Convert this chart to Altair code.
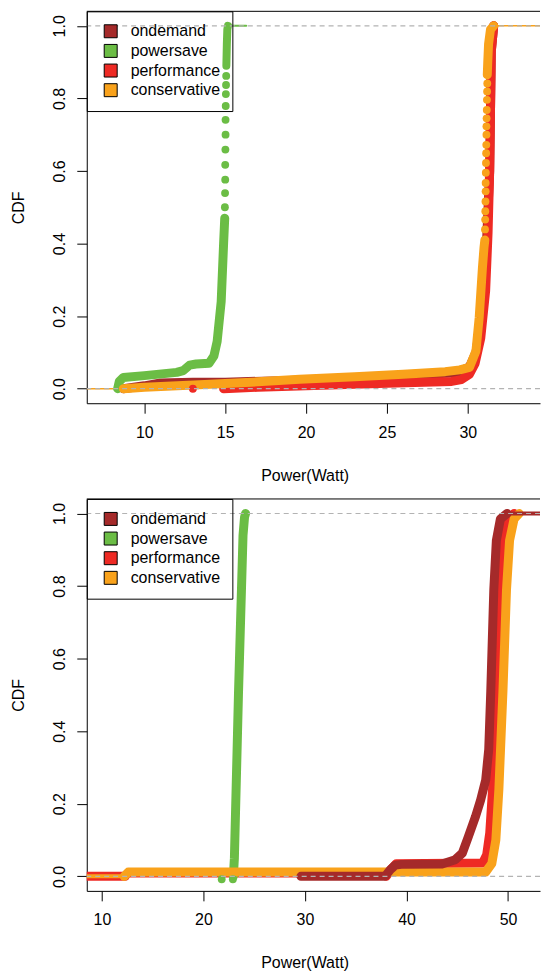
import altair as alt
import pandas as pd

# ---------------- categories / colours ----------------
SERIES = ["ondemand", "powersave", "performance", "conservative"]
COLORS = ["#A52A2A", "#6BBD45", "#EE2A24", "#F9A21B"]
COLOR_OF = dict(zip(SERIES, COLORS))

Y_TICKS = [0.0, 0.2, 0.4, 0.6, 0.8, 1.0]
Y_DOMAIN = [-0.04, 1.04]
REF_LEVELS = [0.0, 1.0]

TOP_X_TICKS = [10, 15, 20, 25, 30]
TOP_X_DOMAIN = [6.44, 34.46]
BOT_X_TICKS = [10, 20, 30, 40, 50]
BOT_X_DOMAIN = [8.51, 53.15]

# ---------------- top panel traces ----------------
top_cons_lead_x = [6.44, 8.7]
top_cons_lead_y = [0.0, 0.0]

top_ond_x = [8.7, 10.0, 11.0, 13.0, 15.0, 20.0, 25.0, 29.3, 30.1, 30.5, 30.85, 31.15, 31.35, 31.45, 31.6]
top_ond_y = [0.0, 0.008, 0.016, 0.018, 0.018, 0.024, 0.034, 0.044, 0.06, 0.1, 0.2, 0.4, 0.6, 0.93, 1.0]

top_ps_x = [8.35, 8.45, 8.7, 10.0, 12.0, 12.4, 12.8, 13.2, 14.0, 14.3, 14.5, 14.75, 14.9, 14.97]
top_ps_y = [0.0, 0.02, 0.031, 0.036, 0.045, 0.05, 0.065, 0.068, 0.07, 0.09, 0.13, 0.24, 0.40, 0.47]
top_ps_top_x = [15.07, 15.1, 15.13, 15.17]
top_ps_top_y = [0.89, 0.95, 0.99, 1.0]
top_ps_tail_x = [15.17, 16.3]
top_ps_tail_y = [1.0, 1.0]
top_ps_dot_x = [14.98, 14.99, 15.0, 15.0, 15.01, 15.02, 15.02, 15.03, 15.04, 15.05, 15.06]
top_ps_dot_y = [0.5, 0.539, 0.576, 0.617, 0.659, 0.700, 0.741, 0.779, 0.812, 0.837, 0.862]

top_perf_x = [14.9, 17.0, 20.0, 25.0, 29.0, 29.6, 30.1, 30.45, 30.8, 31.1, 31.25, 31.35, 31.45, 31.6]
top_perf_y = [0.0, 0.004, 0.008, 0.015, 0.02, 0.025, 0.04, 0.07, 0.14, 0.27, 0.43, 0.6, 0.93, 1.0]
top_perf_dot_x = [13.0]
top_perf_dot_y = [0.0]

top_cons_x = [8.7, 10.0, 13.4, 17.0, 19.6, 23.0, 26.0, 28.6, 29.5, 30.1, 30.5, 30.7, 30.9, 31.0, 31.05]
top_cons_y = [0.0, 0.004, 0.011, 0.019, 0.026, 0.033, 0.04, 0.047, 0.052, 0.059, 0.104, 0.196, 0.333, 0.39, 0.41]
top_cons_top_x = [31.2, 31.23, 31.28, 31.4, 31.6]
top_cons_top_y = [0.865, 0.9, 0.95, 0.99, 1.0]
top_cons_tail_x = [31.6, 34.46]
top_cons_tail_y = [1.0, 1.0]
top_cons_dot_x = [31.06, 31.07, 31.08, 31.09, 31.1, 31.1, 31.11, 31.12, 31.13, 31.14, 31.15, 31.15, 31.16, 31.17, 31.18, 31.19, 31.2]
top_cons_dot_y = [0.439, 0.466, 0.489, 0.516, 0.544, 0.567, 0.595, 0.622, 0.649, 0.672, 0.700, 0.723, 0.745, 0.768, 0.796, 0.819, 0.841]

# ---------------- bottom panel traces ----------------
bot_perf_lead_x = [8.51, 12.3]
bot_perf_lead_y = [0.0, 0.0]
bot_cons_lead_x = [8.51, 12.3]
bot_cons_lead_y = [0.0, 0.0]
bot_perf_thin_x = [12.3, 38.0]
bot_perf_thin_y = [0.0, 0.0]

bot_ps_x = [22.95, 23.05, 23.45, 23.9, 24.05, 24.15]
bot_ps_y = [0.0, 0.05, 0.5, 0.94, 0.99, 1.0]
bot_ps_dot_x = [21.8, 22.9]
bot_ps_dot_y = [-0.008, -0.008]

bot_perf_x = [38.0, 38.5, 39.0, 47.5, 47.9, 48.2, 48.5, 48.95, 49.3, 49.6, 50.05, 50.6]
bot_perf_y = [0.0, 0.02, 0.035, 0.037, 0.06, 0.12, 0.25, 0.51, 0.79, 0.925, 0.985, 1.0]

bot_cons_x = [12.2, 12.6, 47.8, 48.4, 48.8, 49.1, 49.5, 49.85, 50.15, 50.6, 51.1]
bot_cons_y = [0.0, 0.012, 0.012, 0.035, 0.10, 0.24, 0.51, 0.79, 0.925, 0.985, 1.0]

bot_ond_x = [29.6, 37.9, 38.4, 38.9, 39.5, 43.5, 44.8, 45.5, 46.1, 46.8, 47.3, 47.8, 48.1, 48.3, 48.6, 48.85, 49.25, 49.9]
bot_ond_y = [0.0, 0.0, 0.018, 0.031, 0.033, 0.034, 0.046, 0.064, 0.11, 0.165, 0.21, 0.265, 0.35, 0.51, 0.79, 0.925, 0.985, 1.0]
bot_ond_tail_x = [49.9, 53.15]
bot_ond_tail_y = [1.0, 1.0]

FONT = "Liberation Sans"
PLOT_W = 454.5
PLOT_H = 393


def x_enc(domain, ticks):
    return alt.X(
        "x:Q",
        scale=alt.Scale(domain=domain, nice=False, zero=False),
        axis=alt.Axis(
            values=ticks, format="d", title="Power(Watt)", grid=False,
            labelFontSize=16, labelColor="black", labelPadding=11, labelFlush=False,
            labelOverlap=False, tickSize=10, tickColor="black", domainColor="black",
            titleFontSize=16, titleFontWeight="normal", titleColor="black",
            titleX=218.5, titleY=72, titleBaseline="middle", titleAlign="center",
        ),
    )


def y_enc():
    return alt.Y(
        "y:Q",
        scale=alt.Scale(domain=Y_DOMAIN, nice=False, zero=False),
        axis=alt.Axis(
            values=Y_TICKS, format=".1f", title="CDF", grid=False,
            labelFontSize=16, labelColor="black", labelAngle=270, labelAlign="center",
            labelBaseline="alphabetic", labelPadding=12, labelFlush=False, labelOverlap=False,
            tickSize=10, tickColor="black", domainColor="black",
            titleFontSize=16, titleFontWeight="normal", titleColor="black",
            titleAngle=270, titleX=-68.5, titleBaseline="middle", titleAlign="center",
        ),
    )


def seg_layer(series, width, xs, ys, xe):
    df = pd.DataFrame({"x": xs, "y": ys, "i": list(range(len(xs)))})
    return alt.Chart(df).mark_line(
        color=COLOR_OF[series], strokeWidth=width, strokeCap="round",
        strokeJoin="round", clip=True,
    ).encode(x=xe, y=y_enc(), order="i:Q")


def dot_layer(groups, xe):
    rows = []
    for series, xs, ys in groups:
        for a, b in zip(xs, ys):
            rows.append({"x": a, "y": b, "series": series})
    df = pd.DataFrame(rows)
    return alt.Chart(df).mark_circle(size=62, opacity=1, clip=True).encode(
        x=xe, y=y_enc(),
        fill=alt.Fill(
            "series:N", scale=alt.Scale(domain=SERIES, range=COLORS),
            legend=alt.Legend(
                title=None, orient="top-left", offset=0, padding=12,
                symbolType="square", symbolSize=169, symbolStrokeColor="black",
                symbolStrokeWidth=1, symbolOffset=4, labelOffset=12,
                labelFontSize=16, labelColor="black", rowPadding=1.7,
                strokeColor="black", direction="vertical", symbolOpacity=1,
            ),
        ),
    )


def ref_layers():
    dashed = alt.Chart(pd.DataFrame({"y": REF_LEVELS})).mark_rule(
        color="#B3B3B3", strokeDash=[5, 4], strokeWidth=1.2
    ).encode(y=y_enc())
    border = alt.Chart(pd.DataFrame({"y": [Y_DOMAIN[1]]})).mark_rule(
        color="black", strokeWidth=1
    ).encode(y=y_enc())
    return [dashed, border]


# ---------------- top panel ----------------
xt = x_enc(TOP_X_DOMAIN, TOP_X_TICKS)
top_layers = [
    seg_layer("conservative", 1.5, top_cons_lead_x, top_cons_lead_y, xt),
    seg_layer("ondemand", 9, top_ond_x, top_ond_y, xt),
    seg_layer("powersave", 9, top_ps_x, top_ps_y, xt),
    seg_layer("powersave", 8, top_ps_top_x, top_ps_top_y, xt),
    seg_layer("powersave", 2, top_ps_tail_x, top_ps_tail_y, xt),
    seg_layer("performance", 9, top_perf_x, top_perf_y, xt),
    seg_layer("conservative", 9, top_cons_x, top_cons_y, xt),
    seg_layer("conservative", 9, top_cons_top_x, top_cons_top_y, xt),
    seg_layer("conservative", 1.5, top_cons_tail_x, top_cons_tail_y, xt),
    dot_layer([
        ("powersave", top_ps_dot_x, top_ps_dot_y),
        ("performance", top_perf_dot_x, top_perf_dot_y),
        ("conservative", top_cons_dot_x, top_cons_dot_y),
    ], xt),
] + ref_layers()
top = alt.layer(*top_layers).properties(width=PLOT_W, height=PLOT_H)

# ---------------- bottom panel ----------------
xb = x_enc(BOT_X_DOMAIN, BOT_X_TICKS)
bot_layers = [
    seg_layer("performance", 9, bot_perf_lead_x, bot_perf_lead_y, xb),
    seg_layer("conservative", 4, bot_cons_lead_x, bot_cons_lead_y, xb),
    seg_layer("performance", 2.5, bot_perf_thin_x, bot_perf_thin_y, xb),
    seg_layer("powersave", 9, bot_ps_x, bot_ps_y, xb),
    seg_layer("performance", 9, bot_perf_x, bot_perf_y, xb),
    seg_layer("conservative", 9, bot_cons_x, bot_cons_y, xb),
    seg_layer("ondemand", 9, bot_ond_x, bot_ond_y, xb),
    seg_layer("ondemand", 4, bot_ond_tail_x, bot_ond_tail_y, xb),
    dot_layer([("powersave", bot_ps_dot_x, bot_ps_dot_y)], xb),
] + ref_layers()
bottom = alt.layer(*bot_layers).properties(width=PLOT_W, height=PLOT_H)

chart = (
    alt.vconcat(top, bottom, spacing=15)
    .resolve_scale(fill="independent")
    .resolve_legend(fill="independent")
    .properties(padding={"left": 10, "top": 9, "right": 0, "bottom": 0})
    .configure(font=FONT)
    .configure_view(stroke=None)
)

chart.save("out.html", embed_options={"renderer": "svg", "actions": False})
